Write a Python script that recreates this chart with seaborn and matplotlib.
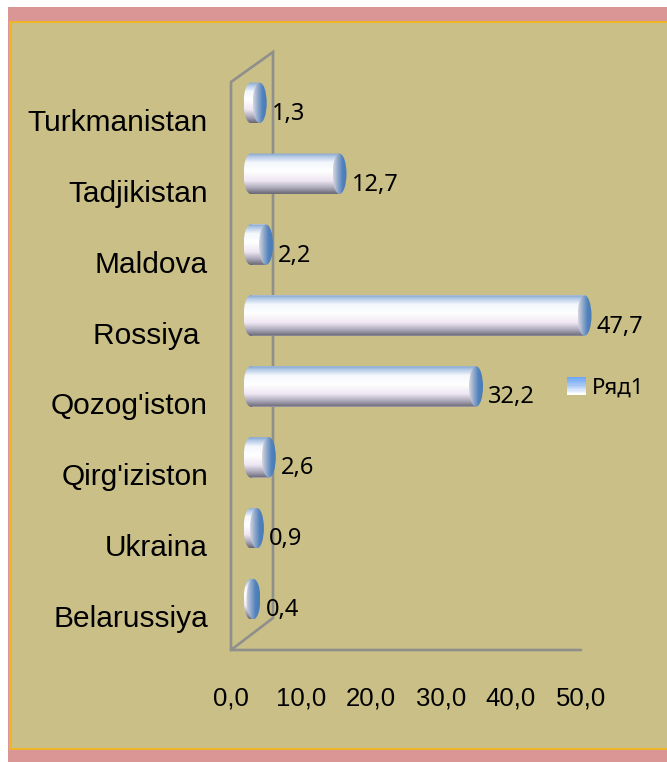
import numpy as np
import pandas as pd
import matplotlib
matplotlib.use("Agg")
import matplotlib.pyplot as plt
import matplotlib.transforms as mtransforms
from matplotlib.colors import LinearSegmentedColormap
from matplotlib.legend_handler import HandlerBase
from matplotlib.patches import Patch, Rectangle
from matplotlib.path import Path
import seaborn as sns

countries = ["Turkmanistan", "Tadjikistan", "Maldova", "Rossiya ", "Qozog'iston",
             "Qirg'iziston", "Ukraina", "Belarussiya"]
shares = [1.3, 12.7, 2.2, 47.7, 32.2, 2.6, 0.9, 0.4]
x_ticks = [0, 10, 20, 30, 40, 50]
series_name = "Ряд1"

W, H = 667, 762
WALL_DEPTH = 2.8  # bars start this far in, the chart is a fake 3d one
CAP = 1.0  # half width of the round bar ends, in data units
BAR_HEIGHT = 0.57

PINK = "#d99694"
KHAKI = "#c9bf87"
ORANGE = "#f0b429"
GRID = "#8f8f8c"

sns.set_style("white")
plt.rcParams["font.family"] = ["Liberation Sans", "DejaVu Sans"]

body_cmap = LinearSegmentedColormap.from_list("body", [
    (0.0, "#86a6cf"), (0.08, "#b4cae6"), (0.22, "#f4f7fc"), (0.45, "#ffffff"),
    (0.68, "#efe6f3"), (0.85, "#aeabbc"), (1.0, "#6b6975")])
cap_cmap = LinearSegmentedColormap.from_list("cap", [
    (0.0, "#d4d5df"), (0.35, "#8fa8ca"), (0.7, "#4f81bd"), (1.0, "#4a7cb5")])
key_cmap = LinearSegmentedColormap.from_list("key", ["#6ea6f5", "#a9c9f5", "#ffffff"])


def box(x, y, w, h, **kw):
    # rectangle given in image pixels, y from the top
    return Rectangle((x / W, 1 - (y + h) / H), w / W, h / H, transform=fig.transFigure, zorder=-1, **kw)


class GradientKey(HandlerBase):
    def create_artists(self, legend, orig, xd, yd, width, height, fontsize, trans):
        steps = 14
        return [Rectangle((-xd, -yd + height * (1 - (i + 1) / steps)), width, height / steps + 0.3,
                          facecolor=key_cmap(i / (steps - 1)), edgecolor="none", transform=trans)
                for i in range(steps)]


fig = plt.figure(figsize=(W / 100, H / 100), dpi=100, facecolor="white")
fig.add_artist(box(8, 7, W - 8, H - 7, facecolor=PINK, edgecolor="none"))
fig.add_artist(box(9, 21, W, 729, facecolor=ORANGE, edgecolor="none"))
fig.add_artist(box(12, 23, W, 725, facecolor=KHAKI, edgecolor="none"))

ax = fig.add_axes([231 / W, 1 - 650 / H, 350 / W, 598 / H])
ax.patch.set_visible(False)

df = pd.DataFrame({"country": countries, "share": shares})
sns.barplot(data=df, x="share", y="country", orient="y", left=WALL_DEPTH, width=BAR_HEIGHT,
            color="#d8d8e4", linewidth=0, ax=ax, zorder=3)

# the fake 3d frame
wall = 42 / 350
ax.plot([1, 0, 0, wall, wall, 0], [0, 0, 568 / 598, 1, 32 / 598, 0], transform=ax.transAxes,
        color=GRID, linewidth=1.9, zorder=1, clip_on=False, solid_joinstyle="miter")

# shade the flat seaborn bars so they look like cylinders
for patch, value in zip(ax.patches, shares):
    x0, y0 = patch.get_x(), patch.get_y()
    w, h = patch.get_width(), patch.get_height()
    patch.set_clip_on(False)
    rect = Path([(x0, y0), (x0 + w, y0), (x0 + w, y0 + h), (x0, y0 + h), (x0, y0)], closed=True)
    left_end = Path.unit_circle().transformed(
        mtransforms.Affine2D().scale(CAP, h / 2).translate(x0, y0 + h / 2))
    body = Path.make_compound_path(rect, left_end)
    im = ax.imshow(np.linspace(0, 1, 64)[:, None], cmap=body_cmap, aspect="auto", vmin=0, vmax=1,
                   extent=(x0 - CAP, x0 + w, y0 + h, y0), origin="upper", zorder=4)
    im.set_clip_box(fig.bbox)
    im.set_clip_path(body, transform=ax.transData)
    right_end = Path.unit_circle().transformed(
        mtransforms.Affine2D().scale(CAP, h / 2).translate(x0 + w, y0 + h / 2))
    im2 = ax.imshow(np.linspace(0, 1, 32)[None, :], cmap=cap_cmap, aspect="auto", vmin=0, vmax=1,
                    extent=(x0 + w - CAP, x0 + w + CAP, y0 + h, y0), origin="upper", zorder=5)
    im2.set_clip_box(fig.bbox)
    im2.set_clip_path(right_end, transform=ax.transData)
    ax.annotate(f"{value:.1f}".replace(".", ","), (x0 + w + CAP, y0 + h / 2), xytext=(5, -11),
                textcoords="offset pixels", ha="left", va="center", fontsize=17,
                family=["Noto Sans", "DejaVu Sans"], color="black", zorder=6,
                annotation_clip=False)

ax.set_xlim(0, 50)
ax.set_ylim(7.718, -0.718)
ax.set_xticks(x_ticks)
ax.set_xticklabels([f"{t:.1f}".replace(".", ",") for t in x_ticks])
ax.set_xlabel("")
ax.set_ylabel("")
ax.tick_params(axis="x", length=0, pad=26, labelsize=18.5, colors="black")
ax.tick_params(axis="y", length=0, pad=16.5, labelsize=21.5, colors="black")
sns.despine(ax=ax, left=True, bottom=True)

# category names sit lower than their bars in the original
shift = mtransforms.ScaledTranslation(0, -17 / 100, fig.dpi_scale_trans)
for label in ax.get_yticklabels():
    label.set_transform(label.get_transform() + shift)

ax.legend([Patch()], [series_name], handler_map={Patch: GradientKey()}, frameon=False,
          loc="center left", bbox_to_anchor=(567 / W, 1 - 388 / H), bbox_transform=fig.transFigure,
          handlelength=0.85, handleheight=0.85, handletextpad=0.27, borderpad=0, borderaxespad=0,
          labelcolor="black", prop={"family": ["Noto Sans", "DejaVu Sans"], "size": 16})

fig.savefig("out.png", dpi=100, facecolor=fig.get_facecolor())
plt.close(fig)
